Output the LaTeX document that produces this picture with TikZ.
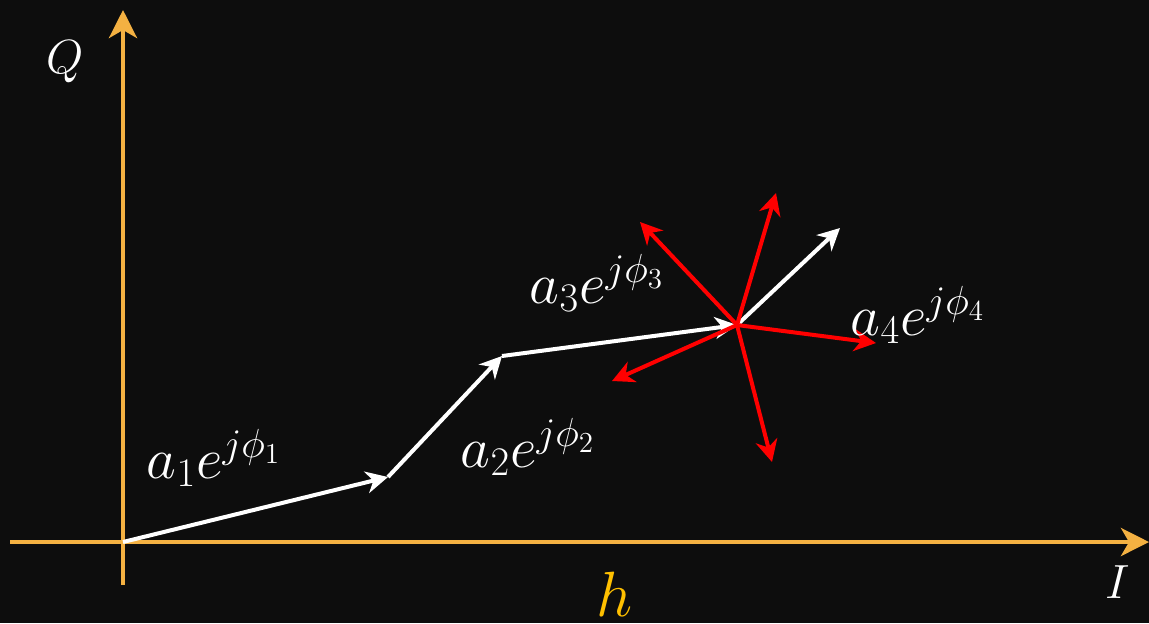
\documentclass[tikz,border=0pt]{standalone}
\usepackage{fix-cm}
\usepackage{amsmath, amssymb}
\usetikzlibrary{positioning, arrows.meta}
\definecolor{bgblack}{HTML}{0D0D0D}
\definecolor{axisorange}{HTML}{F4B142}
\definecolor{hgold}{HTML}{FFC000}
\definecolor{phasered}{HTML}{FF0000}

\begin{document}
\begin{tikzpicture}[x=0.5pt, y=-0.5pt,
    axis/.style={axisorange, line width=2.2pt, -{Stealth[length=14pt, width=14pt, inset=4pt]}},
    vec/.style={white, line width=2pt, -{Stealth[length=11pt, width=11pt, inset=3.5pt]}},
    redvec/.style={phasered, line width=2pt, -{Stealth[length=11pt, width=11pt, inset=3.5pt]}},
    lbl/.style={white, font=\fontsize{29}{35}\selectfont},
    axlbl/.style={white, font=\fontsize{24}{29}\selectfont}]
  \fill[bgblack] (0,0) rectangle (1149,623);
  \useasboundingbox (0,0) rectangle (1149,623);
  % axes
  \coordinate (O) at (123,542);
  \coordinate (iL) at (10,542);
  \coordinate (iR) at (1149,542);
  \coordinate (qB) at (123,585);
  \coordinate (qT) at (123,10);
  \draw[axis] (iL) -- (iR);
  \draw[axis] (qB) -- (qT);
  \node[axlbl] (Qlbl) at (65,62) {$Q$};
  \node[axlbl] (Ilbl) at (1118,582) {$I$};
  \node[hgold, inner sep=0pt, font=\fontsize{32}{38}\selectfont] (hlbl) at (615,594) {$h$};
  % random phasors
  \coordinate (p1) at (388,477);
  \coordinate (p2) at (502,356);
  \coordinate (p3) at (737,325);
  \coordinate (p4) at (840,228);
  \draw[vec] (O) -- (p1);
  \draw[vec] (p1) -- (p2);
  \draw[vec] (p2) -- (p3);
  \draw[vec] (p3) -- (p4);
  % possible directions of the last one
  \coordinate (r1) at (640,222);
  \coordinate (r2) at (776,193);
  \coordinate (r3) at (876,343);
  \coordinate (r4) at (612,381);
  \coordinate (r5) at (772,462);
  \foreach \r in {r1, r2, r3, r4, r5}
    \draw[redvec] (p3) -- (\r);
  \node[lbl] (a1) at (214,458) {$a_1e^{j\phi_1}$};
  \node[lbl] (a2) at (528,447) {$a_2e^{j\phi_2}$};
  \node[lbl] (a3) at (597,283) {$a_3e^{j\phi_3}$};
  \node[lbl] (a4) at (918,315) {$a_4e^{j\phi_4}$};
\end{tikzpicture}
\end{document}
